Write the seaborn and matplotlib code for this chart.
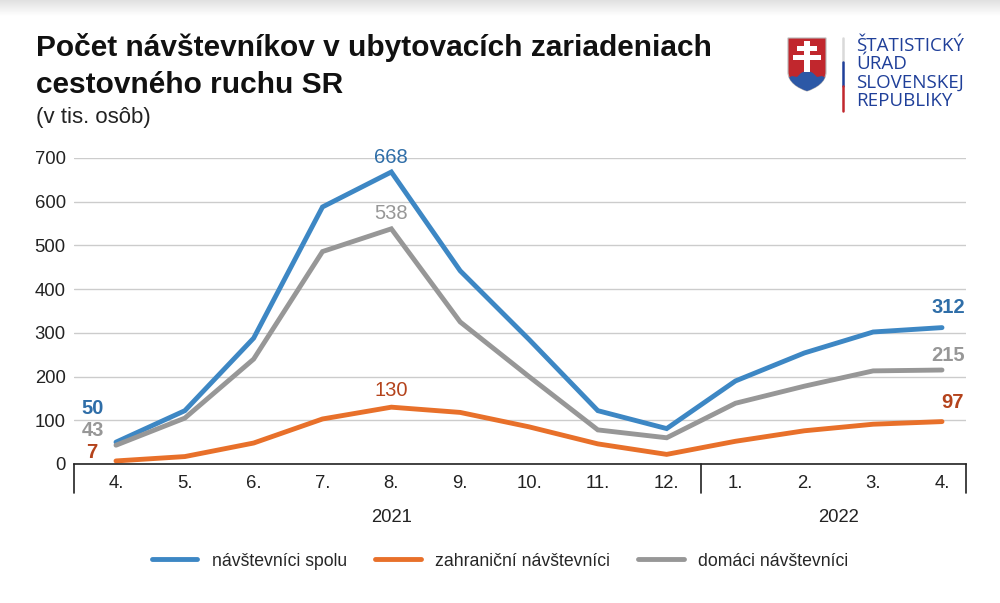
import numpy as np
import pandas as pd
import matplotlib.pyplot as plt
import matplotlib.patches as mpatches
from matplotlib.lines import Line2D
from matplotlib.path import Path
import seaborn as sns

months = ["4.", "5.", "6.", "7.", "8.", "9.", "10.", "11.", "12.", "1.", "2.", "3.", "4."]
years = ["2021", "2022"]
year_span = [(0, 8), (9, 12)]
spolu = [50, 122, 288, 588, 668, 442, 285, 122, 81, 190, 254, 302, 312]
zahranicni = [7, 17, 48, 103, 130, 118, 85, 46, 22, 52, 76, 91, 97]
domaci = [43, 105, 240, 486, 538, 325, 200, 78, 60, 139, 178, 213, 215]
series = ["návštevníci spolu", "zahraniční návštevníci", "domáci návštevníci"]
line_colors = ["#3d87c4", "#e8702a", "#979797"]
label_colors = ["#2f6ea8", "#b4431c", "#979797"]

W, H = 1000, 603


def fx(x):
    return x / W


def fy(y):
    return 1 - y / H


sns.set_style("white")
plt.rcParams["font.family"] = ["Liberation Sans", "DejaVu Sans"]

df = pd.DataFrame({
    "idx": list(range(len(months))) * 3,
    "value": spolu + zahranicni + domaci,
    "series": [series[0]] * len(months) + [series[1]] * len(months) + [series[2]] * len(months),
})

fig = plt.figure(figsize=(W / 100, H / 100), dpi=100)

# light band at the very top
band = fig.add_axes([0, fy(16), 1, 16 / H])
band.imshow(np.linspace(0.88, 1.0, 50).reshape(-1, 1), cmap="gray", vmin=0, vmax=1,
            aspect="auto", extent=(0, 1, 0, 1))
band.set_axis_off()

x_left, x_right, y_top, y_bot = 74, 966, 158, 464
ax = fig.add_axes([fx(x_left), fy(y_bot), (x_right - x_left) / W, (y_bot - y_top) / H])

sns.lineplot(data=df, x="idx", y="value", hue="series", hue_order=series,
             palette=line_colors, linewidth=3.5, errorbar=None, legend=False, ax=ax)
for ln in ax.get_lines():
    ln.set_solid_capstyle("round")
    ln.set_solid_joinstyle("miter")

step = (942 - 116) / 12
ax.set_xlim(-(116 - x_left) / step, 12 + (x_right - 942) / step)
ax.set_ylim(0, 700)
ax.set_yticks(range(0, 701, 100))
ax.set_xticks(range(len(months)))
ax.set_xticklabels(months)
ax.tick_params(axis="both", length=0, labelsize=13.3, colors="#222222")
ax.tick_params(axis="y", pad=6)
ax.tick_params(axis="x", pad=8)
ax.set_xlabel("")
ax.set_ylabel("")
ax.grid(axis="y", color="#cccccc", linewidth=1.0)
ax.grid(axis="x", visible=False)
for s in ["left", "right", "top"]:
    ax.spines[s].set_visible(False)
ax.spines["bottom"].set_color("#222222")
ax.spines["bottom"].set_linewidth(1.2)
ax.set_zorder(2)

# group separators and year labels under the axis
tr = ax.get_xaxis_transform()
drop = (493 - y_bot) / (y_bot - y_top)
xl, xr = ax.get_xlim()
for xs in [xl, 8.5, xr]:
    ax.add_line(Line2D([xs, xs], [0, -drop], transform=tr, color="#222222",
                       linewidth=1.2, clip_on=False))
for name, (a, b) in zip(years, year_span):
    ax.text((a + b) / 2, -(518 - y_bot) / (y_bot - y_top), name, transform=tr,
            ha="center", va="center", fontsize=13.3, color="#222222")

# data labels
vals = [spolu, zahranicni, domaci]
first_off = [(-23, 34), (-24, 8), (-23, 15)]
peak_off = [(0, 14), (0, 17), (0, 15)]
last_off = [(6, 20), (10, 19), (6, 15)]
for v, c, fo, po, lo in zip(vals, label_colors, first_off, peak_off, last_off):
    ax.annotate(str(v[0]), (0, v[0]), xytext=fo, textcoords="offset pixels",
                ha="center", va="center", fontsize=14.5, fontweight="bold", color=c,
                annotation_clip=False)
    ax.annotate(str(v[4]), (4, v[4]), xytext=po, textcoords="offset pixels",
                ha="center", va="center", fontsize=14.5, color=c, annotation_clip=False)
    ax.annotate(str(v[-1]), (12, v[-1]), xytext=lo, textcoords="offset pixels",
                ha="center", va="center", fontsize=14.5, fontweight="bold", color=c,
                annotation_clip=False)

# title
fig.text(fx(36), fy(48), "Počet návštevníkov v ubytovacích zariadeniach",
         fontsize=21.5, fontweight="bold", color="#111111", va="center", ha="left")
fig.text(fx(36), fy(85), "cestovného ruchu SR",
         fontsize=21.5, fontweight="bold", color="#111111", va="center", ha="left")
fig.text(fx(36), fy(117), "(v tis. osôb)", fontsize=16, color="#222222",
         va="center", ha="left")

# legend
handles = [Line2D([0], [0], color=c, linewidth=3.5, solid_capstyle="round")
           for c in line_colors]
fig.legend(handles, series, loc="center", bbox_to_anchor=(0.5, fy(561)), ncol=3,
           frameon=False, fontsize=12.7, handlelength=2.6, handletextpad=0.8,
           columnspacing=1.6)

# logo: shield
logo = fig.add_axes([fx(786), fy(92), 42 / W, 56 / H])
logo.set_xlim(0, 42)
logo.set_ylim(56, 0)
logo.set_axis_off()
verts = [(2, 2), (40, 2), (40, 36), (40, 46), (30, 52), (21, 55),
         (12, 52), (2, 46), (2, 36), (2, 2)]
codes = [Path.MOVETO, Path.LINETO, Path.LINETO, Path.CURVE4, Path.CURVE4, Path.CURVE4,
         Path.CURVE4, Path.CURVE4, Path.CURVE4, Path.CLOSEPOLY]
shield = mpatches.PathPatch(Path(verts, codes), facecolor="#c1272d", edgecolor="#b8b8b8",
                            linewidth=0.8)
logo.add_patch(shield)
hills = mpatches.Polygon([(0, 56), (0, 43), (6, 40), (11, 41), (15, 37), (21, 34), (27, 37),
                          (31, 41), (36, 40), (42, 43), (42, 56)],
                         closed=True, facecolor="#2c58a6", edgecolor="none")
logo.add_patch(hills)
hills.set_clip_path(shield)
for rect in [(18, 5, 6, 31), (11, 10, 20, 5), (7, 18.5, 28, 5.5)]:
    logo.add_patch(mpatches.Rectangle(rect[:2], rect[2], rect[3], facecolor="white",
                                      edgecolor="none"))

# logo: tricolour bar and name
for (y0, y1), c in zip([(38, 62), (62, 86), (86, 111)], ["#d9d9d9", "#1f3f99", "#c1272d"]):
    fig.add_artist(Line2D([fx(843), fx(843)], [fy(y0), fy(y1)], color=c, linewidth=1.8))
for i, word in enumerate(["ŠTATISTICKÝ", "ÚRAD", "SLOVENSKEJ", "REPUBLIKY"]):
    fig.text(fx(856), fy(46 + i * 18.3), word, fontsize=13.5, color="#1f3f99",
             family=["Open Sans", "DejaVu Sans"], va="center", ha="left")

fig.savefig("out.png", dpi=100)
